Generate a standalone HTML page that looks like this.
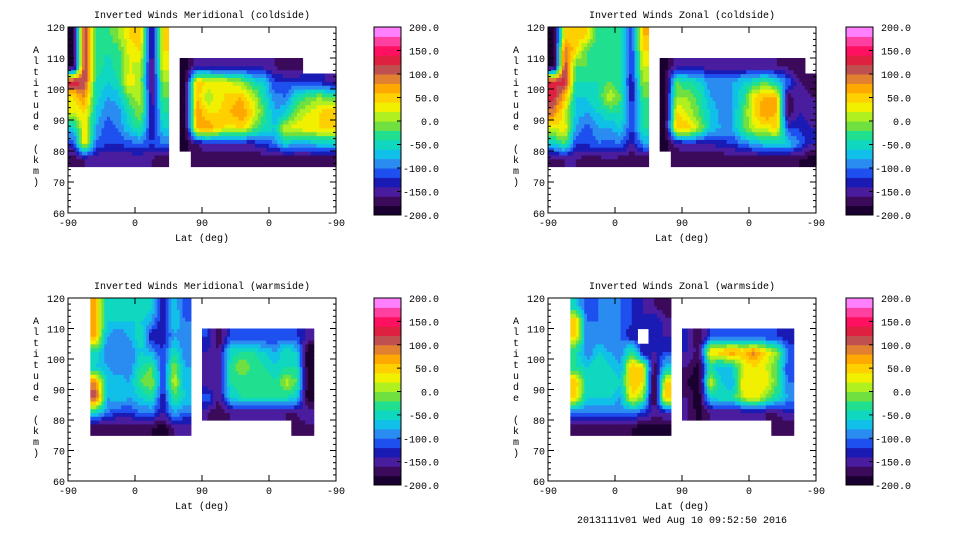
<!DOCTYPE html>
<html><head><meta charset="utf-8">
<style>
body{margin:0;background:#fff;width:960px;height:540px;overflow:hidden}
svg{display:block;font-family:"Liberation Mono",monospace}
</style></head>
<body>
<svg id="chart" width="960" height="540" viewBox="0 0 960 540"></svg>
<script>
// ---- data ----
const levels = [-200,-180,-160,-140,-120,-100,-80,-60,-40,-20,0,20,40,60,80,100,120,140,160,180,200];
const palette = ["#1a0030","#3c0a5a","#4a1c9e","#1a1ab4","#1e50f0","#2a8cf0","#10c0e8","#10d8c0","#20e090","#70e040","#b0f020","#f0f000","#ffd000","#ffa800","#e08030","#c05050","#e02040","#ff1060","#ff40a0","#ff80ff"];
const colorbarLabels = ["200.0","150.0","100.0","50.0","0.0","-50.0","-100.0","-150.0","-200.0"];
const xTickLabels = ["-90","0","90","0","-90"];
const yTickLabels = ["60","70","80","90","100","110","120"];
const altRows = [75,80,85,90,95,100,105,110,115];
const N = null;
const merCold = [
[-180,-120,-60,20,40,140,-200,-200,-200],
[-160,40,40,40,80,120,130,130,120],
[-160,-100,-80,-60,-50,-40,-20,-20,-20],
[-160,-120,-110,-100,-80,-60,-50,-40,-30],
[-160,-120,-100,-90,-70,-40,-30,-30,0],
[-160,-110,-60,-40,-10,40,20,30,40],
[-160,-100,-30,0,10,0,10,40,50],
[-160,-120,-140,-150,-160,-170,-170,-160,-160],
[-180,-100,-60,-40,-20,0,30,40,40],
[N,N,N,N,N,N,N,N,N],
[N,-190,-190,-190,-190,-190,-190,N,N],
[-180,-160,60,80,60,50,-150,N,N],
[-180,-140,80,40,0,40,-150,N,N],
[-180,-140,50,40,30,30,-150,N,N],
[-180,-140,30,60,50,20,-150,N,N],
[-180,-140,40,80,60,0,-150,N,N],
[-180,-140,0,40,20,-40,-150,N,N],
[-180,-120,-40,-20,-40,-60,-150,N,N],
[-180,-100,-60,-80,-90,-120,-160,N,N],
[-180,-60,20,-60,-100,-120,-180,N,N],
[-180,-80,30,0,-40,-120,-180,N,N],
[-180,-80,40,20,-20,-120,N,N,N],
[-180,-60,40,40,0,-130,N,N,N],
[-180,-60,40,60,-20,-150,N,N,N]];
const zonCold = [
[-170,-60,20,90,130,120,-200,-200,-200],
[-160,-20,40,20,60,140,120,100,40],
[-160,-120,-80,-70,-60,-40,-20,40,60],
[-170,-120,-110,-80,-60,-40,-20,-20,40],
[-170,-100,-80,-60,-40,-40,-30,-40,-40],
[-160,-110,-80,-40,20,-20,-20,-40,-40],
[-170,-100,-60,-40,-20,-40,-40,-40,-40],
[-180,-150,-120,-120,-140,-140,-120,-120,-120],
[-180,-80,-40,-40,-20,0,20,40,60],
[N,N,N,N,N,N,N,N,N],
[N,-190,-190,-190,-190,-190,-190,N,N],
[-180,-150,60,40,0,-20,-150,N,N],
[-180,-140,60,20,0,-40,-150,N,N],
[-180,-140,10,-20,-30,-50,-150,N,N],
[-180,-140,-60,-60,-80,-90,-150,N,N],
[-180,-130,-80,-90,-90,-90,-150,N,N],
[-180,-120,-80,-80,-80,-80,-150,N,N],
[-180,-100,-20,-20,-40,-60,-160,N,N],
[-180,-80,20,40,40,-40,-160,N,N],
[-180,-60,30,80,70,-20,-160,N,N],
[-180,-60,40,60,60,-60,-160,N,N],
[-180,-60,-120,-180,-180,-100,-170,N,N],
[-180,-100,-120,-140,-140,-160,-180,N,N],
[-190,-140,-140,-150,-160,-170,N,N,N]];
const merWarm = [
[N,N,N,N,N,N,N,N,N],
[N,N,N,N,N,N,N,N,N],
[-180,-60,120,80,-60,-40,60,60,60],
[-180,-100,-80,-60,-80,-100,-80,-60,-60],
[-180,-120,-60,-60,-100,-100,-100,-60,-60],
[-180,-120,-80,-80,-100,-100,-80,-60,-60],
[-180,-100,-60,-20,-40,-60,-40,-60,-40],
[-180,-100,-40,0,-20,-80,-140,-80,-60],
[-200,-140,-140,-120,-120,-120,-140,-140,-140],
[-160,-80,-20,20,0,-40,-80,-60,-60],
[-160,-100,-60,-80,-80,-100,-100,-100,-120],
[N,N,N,N,N,N,N,N,N],
[N,-160,-100,-160,-160,-140,-120,N,N],
[N,-180,-160,-160,-160,-160,-180,N,N],
[N,-160,-60,-40,-40,-50,-120,N,N],
[N,-160,-40,-30,0,-40,-120,N,N],
[N,-160,-40,-40,-20,-40,-120,N,N],
[N,-160,-40,-20,-40,-60,-120,N,N],
[N,-160,-40,-40,-60,-80,-120,N,N],
[N,-160,-40,10,-40,-40,-120,N,N],
[-170,-160,-60,-20,-40,-60,-120,N,N],
[-170,-140,-200,-200,-200,-200,-150,N,N],
[N,N,N,N,N,N,N,N,N],
[N,N,N,N,N,N,N,N,N]];
const zonWarm = [
[N,N,N,N,N,N,N,N,N],
[N,N,N,N,N,N,N,N,N],
[-180,-100,40,60,-40,-40,40,60,-60],
[-180,-100,-60,-60,-60,-100,-100,-100,-120],
[-180,-100,-60,-60,-40,-60,-100,-100,-100],
[-180,-100,-60,-40,-60,-80,-100,-100,-100],
[-180,-100,-80,-60,-80,-100,-100,-100,-100],
[-180,-100,40,60,60,-20,-140,-120,-120],
[-200,-120,0,40,40,-140,N,-140,-140],
[-190,-150,-200,-200,-180,-140,-140,-120,-160],
[-190,-140,60,40,-60,-120,-140,-150,-180],
[N,N,N,N,N,N,N,N,N],
[N,-160,-160,-180,-160,-140,-140,N,N],
[N,-190,-200,-200,-190,-170,-180,N,N],
[N,-160,-60,20,-40,40,-120,N,N],
[N,-160,-40,-60,-80,60,-120,N,N],
[N,-160,-40,-80,-60,80,-120,N,N],
[N,-160,20,40,20,60,-120,N,N],
[N,-160,40,40,40,90,-120,N,N],
[N,-160,0,40,20,40,-120,N,N],
[-170,-160,-40,-20,-20,0,-120,N,N],
[-180,-140,-80,-100,-120,-100,-140,N,N],
[N,N,N,N,N,N,N,N,N],
[N,N,N,N,N,N,N,N,N]];

// ---- drawing ----
const svg = document.getElementById('chart');
const NS = 'http://www.w3.org/2000/svg';
function mk(tag, attrs, parent){const e=document.createElementNS(NS,tag);for(const k in attrs)e.setAttribute(k,attrs[k]);(parent||svg).appendChild(e);return e;}
function colorFor(v){let i=Math.floor((v-levels[0])/20);i=Math.max(0,Math.min(palette.length-1,i));return palette[i];}
function sample(data,fc,fr){
  const c0=Math.floor(fc), r0=Math.floor(fr);
  let s=0,w=0;
  for(let dc=0;dc<2;dc++)for(let dr=0;dr<2;dr++){
    const c=c0+dc, r=r0+dr;
    if(c<0||c>=data.length||r<0||r>=data[0].length) continue;
    const v=data[c][r]; if(v===null) continue;
    const wt=(1-Math.abs(fc-c))*(1-Math.abs(fr-r));
    s+=v*wt; w+=wt;
  }
  return w>0?s/w:null;
}

const panels = [
 {data:merCold,title:"Inverted Winds Meridional (coldside)",x0:68,x1:336,y0:27,y1:213,cb:[374,401,27,215],name:"meridional-coldside"},
 {data:zonCold,title:"Inverted Winds Zonal (coldside)",x0:548,x1:816,y0:27,y1:213,cb:[846,873,27,215],name:"zonal-coldside"},
 {data:merWarm,title:"Inverted Winds Meridional (warmside)",x0:68,x1:336,y0:298,y1:481,cb:[374,401,298,485],name:"meridional-warmside"},
 {data:zonWarm,title:"Inverted Winds Zonal (warmside)",x0:548,x1:816,y0:298,y1:481,cb:[846,873,298,485],name:"zonal-warmside"}
];
const SUB=4;
panels.forEach(p=>{
  const g = mk('g',{});
  
  
  const xs = d => p.x0 + d/360*(p.x1-p.x0);
  const ys = a => p.y1 - (a-60)/60*(p.y1-p.y0);
  p.data.forEach((col,c)=>{
    col.forEach((v,r)=>{
      if(v===null) return;
      const a=altRows[r];
      for(let i=0;i<SUB;i++)for(let j=0;j<SUB;j++){
        const fc=c-0.5+(i+0.5)/SUB, fr=r-0.5+(j+0.5)/SUB;
        const sv=sample(p.data,fc,fr);
        const x=xs(c*15+i*15/SUB), x2=xs(c*15+(i+1)*15/SUB);
        const yT=ys(a+(j+1)*5/SUB), yB=ys(a+j*5/SUB);
        const rc = mk('rect',{x:x,y:yT,width:x2-x+0.6,height:yB-yT+0.6,fill:colorFor(sv)},g);
        
        
      }
    });
  });
  const fr = mk('rect',{x:p.x0,y:p.y0,width:p.x1-p.x0,height:p.y1-p.y0,fill:'none',stroke:'#000','stroke-width':1},g);
  
  
  for(let a=60;a<=120;a+=2){
    const y=ys(a), len=(a%10===0)?6:3;
    mk('line',{x1:p.x0,x2:p.x0+len,y1:y,y2:y,stroke:'#000'},g);
    mk('line',{x1:p.x1,x2:p.x1-len,y1:y,y2:y,stroke:'#000'},g);
  }
  yTickLabels.forEach((lab,i)=>{
    const t=mk('text',{x:p.x0-3,y:ys(60+i*10)+4,'text-anchor':'end','font-size':10},g);
    t.textContent=lab;
    
    
  });
  for(let d=0;d<=360;d+=90){
    const x=xs(d);
    mk('line',{x1:x,x2:x,y1:p.y1,y2:p.y1-6,stroke:'#000'},g);
    mk('line',{x1:x,x2:x,y1:p.y0,y2:p.y0+6,stroke:'#000'},g);
  }
  xTickLabels.forEach((lab,i)=>{
    const t=mk('text',{x:xs(i*90),y:p.y1+13,'text-anchor':'middle','font-size':10},g);
    t.textContent=lab;
    
    
  });
  const tt=mk('text',{x:(p.x0+p.x1)/2,y:p.y0-9,'text-anchor':'middle','font-size':10},g);
  tt.textContent=p.title;
  
  
  const xt=mk('text',{x:(p.x0+p.x1)/2,y:p.y1+28,'text-anchor':'middle','font-size':10},g);
  xt.textContent='Lat (deg)';
  
  
  const yt=mk('text',{x:p.x0-32,y:p.y0+26,'text-anchor':'middle','font-size':10},g);
  
  
  'Altitude (km)'.split('').forEach((ch,i)=>{
    const s=mk('tspan',{x:p.x0-32,y:p.y0+26+i*11},yt); s.textContent=ch===' '?'\u00a0':ch;
  });
  const [cx0,cx1,cy0,cy1]=p.cb;
  const cbg=mk('g',{},svg);
  
  
  const bh=(cy1-cy0)/palette.length;
  palette.forEach((col,i)=>{
    const r=mk('rect',{x:cx0,y:cy1-(i+1)*bh,width:cx1-cx0,height:bh+0.5,fill:col},cbg);
    
    
  });
  mk('rect',{x:cx0,y:cy0,width:cx1-cx0,height:cy1-cy0,fill:'none',stroke:'#000'},cbg);
  colorbarLabels.forEach((lab,i)=>{
    const y=cy0+i*(cy1-cy0)/(colorbarLabels.length-1);
    mk('line',{x1:cx1-4,x2:cx1,y1:y,y2:y,stroke:'#000'},cbg);
    const t=mk('text',{x:cx1+38,y:y+4,'text-anchor':'end','font-size':10},cbg);
    t.textContent=lab;
    
    
  });
});
const ts=mk('text',{x:682,y:523,'text-anchor':'middle','font-size':10});
ts.textContent='2013111v01 Wed Aug 10 09:52:50 2016';


</script>
</body></html>
